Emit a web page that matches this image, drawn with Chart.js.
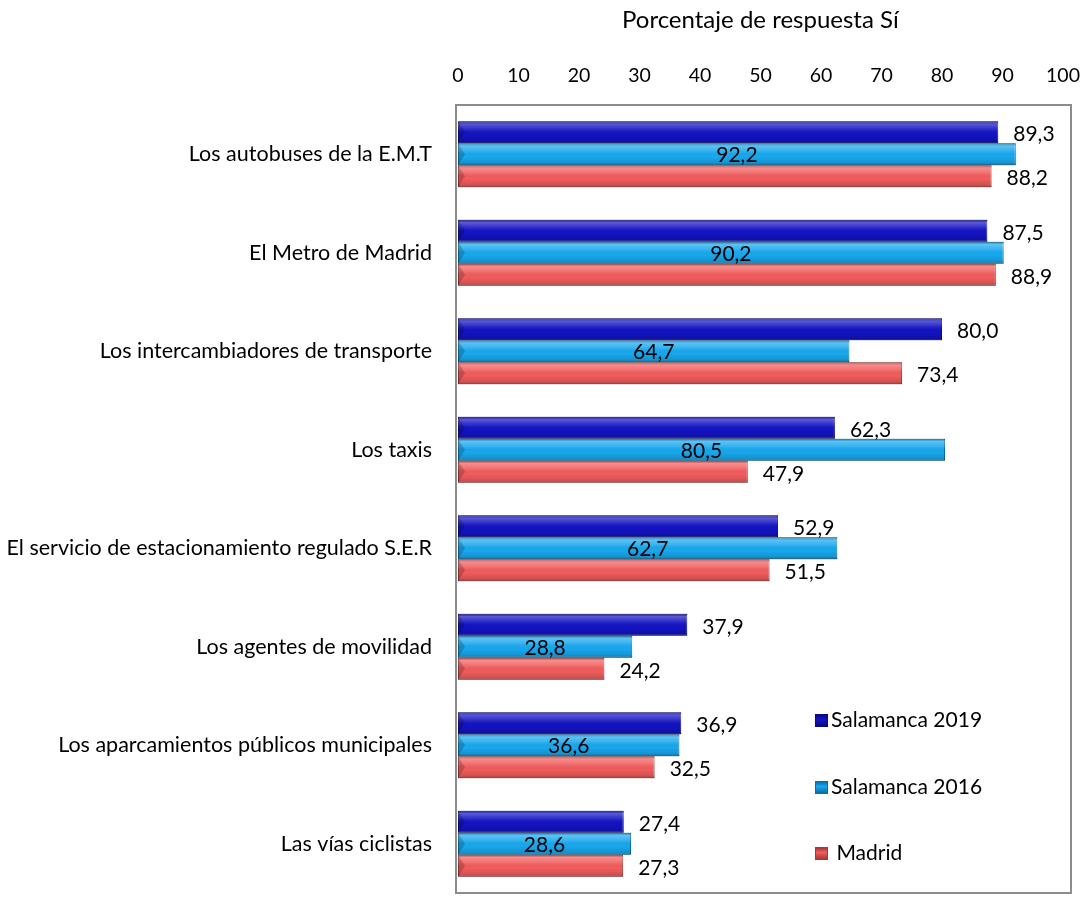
<!DOCTYPE html>
<html>
<head>
<meta charset="utf-8">
<script src="https://cdn.jsdelivr.net/npm/chart.js@4.4.1/dist/chart.umd.min.js"></script>
<style>
  html, body { margin: 0; padding: 0; background: #fff; overflow: hidden; }
  #wrap { position: relative; width: 1086px; height: 898px; }
  #titulo { position: absolute; left: 622px; top: 4px; font-family: Lato, sans-serif; font-size: 24px; color: #000; white-space: nowrap; }
  #legend { position: absolute; left: 815px; top: 706px; font-family: Lato, sans-serif; font-size: 21px; color: #000; }
  #legend div { height: 66.5px; display: flex; align-items: flex-start; }
  #legend span.sw { display: inline-block; width: 13px; height: 13px; margin-right: 3px; margin-top: 8px; box-sizing: border-box; }
</style>
</head>
<body>
<div id="wrap">
  <canvas id="chart"></canvas>
  <div id="titulo">Porcentaje de respuesta Sí</div>
  <div id="legend"></div>
</div>
<script>
// Datos
const categorias = [
    'Los autobuses de la E.M.T',
    'El Metro de Madrid',
    'Los intercambiadores de transporte',
    'Los taxis',
    'El servicio de estacionamiento regulado S.E.R',
    'Los agentes de movilidad',
    'Los aparcamientos públicos municipales',
    'Las vías ciclistas'
];
const salamanca2019 = [89.3, 87.5, 80.0, 62.3, 52.9, 37.9, 36.9, 27.4];
const salamanca2016 = [92.2, 90.2, 64.7, 80.5, 62.7, 28.8, 36.6, 28.6];
const madrid = [88.2, 88.9, 73.4, 47.9, 51.5, 24.2, 32.5, 27.3];
const ticksX = [0, 10, 20, 30, 40, 50, 60, 70, 80, 90, 100];

const series = [
    { label: 'Salamanca 2019', data: salamanca2019, color: '#1313c4', border: '#0a0a80', inside: false },
    { label: 'Salamanca 2016', data: salamanca2016, color: '#18a8ee', border: '#0a6ea8', inside: true },
    { label: 'Madrid', data: madrid, color: '#f25c5c', border: '#a83838', inside: false }
];

const fuente = 'Lato, "Open Sans", sans-serif';

// quitar el relleno extra que Chart.js añade por las etiquetas
function sinRelleno(scale) {
    scale.paddingLeft = 0;
    scale.paddingRight = 0;
    scale.paddingTop = 0;
    scale.paddingBottom = 0;
}

// Sombreado tipo 3D encima de las barras + etiquetas
const barShade = {
    id: 'barShade',
    afterDatasetsDraw(chart) {
        const ctx = chart.ctx;
        chart.data.datasets.forEach((ds, di) => {
            const meta = chart.getDatasetMeta(di);
            meta.data.forEach((bar, i) => {
                const top = bar.y - bar.height / 2;
                const g = ctx.createLinearGradient(0, top, 0, top + bar.height);
                g.addColorStop(0, 'rgba(0,0,0,0.25)');
                g.addColorStop(0.12, 'rgba(255,255,255,0.30)');
                g.addColorStop(0.35, 'rgba(255,255,255,0.12)');
                g.addColorStop(0.6, 'rgba(0,0,0,0)');
                g.addColorStop(0.88, 'rgba(0,0,0,0.12)');
                g.addColorStop(1, 'rgba(0,0,0,0.35)');
                ctx.save();
                ctx.fillStyle = g;
                ctx.fillRect(bar.base, top, bar.x - bar.base, bar.height);
                // pequeño bisel a la izquierda
                ctx.fillStyle = 'rgba(0,0,0,0.18)';
                ctx.beginPath();
                ctx.moveTo(bar.base, top);
                ctx.lineTo(bar.base + 7, bar.y);
                ctx.lineTo(bar.base, top + bar.height);
                ctx.closePath();
                ctx.fill();
                ctx.restore();

                // etiqueta
                const txt = ds.data[i].toFixed(1).replace('.', ',');
                ctx.save();
                ctx.font = '21px ' + fuente;
                ctx.fillStyle = '#000';
                ctx.textBaseline = 'middle';
                if (series[di].inside) {
                    ctx.textAlign = 'center';
                    ctx.fillText(txt, (bar.base + bar.x) / 2, bar.y + 1);
                } else {
                    ctx.textAlign = 'left';
                    ctx.fillText(txt, bar.x + 15, bar.y + 2);
                }
                ctx.restore();
            });
        });
        // marco del área de trazado
        const a = chart.chartArea;
        ctx.save();
        ctx.strokeStyle = '#8c8c8c';
        ctx.lineWidth = 2;
        ctx.strokeRect(a.left - 2, a.top, a.right - a.left + 10, a.bottom - a.top);
        ctx.restore();
    }
};

const ctx = document.getElementById('chart').getContext('2d');
const myChart = new Chart(ctx, {
    type: 'bar',
    data: {
        labels: categorias,
        datasets: series.map(s => ({
            label: s.label,
            data: s.data,
            backgroundColor: s.color,
            borderColor: s.border,
            borderWidth: 1,
            borderSkipped: false,
            categoryPercentage: 0.67,
            barPercentage: 1.0
        }))
    },
    options: {
        indexAxis: 'y',
        responsive: true,
        maintainAspectRatio: false,
        animation: false,
        layout: { padding: { top: 0, right: 23, bottom: 5, left: 0 } },
        plugins: {
            legend: { display: false },
            tooltip: { enabled: false },
            title: { display: false }
        },
        scales: {
            x: {
                position: 'top',
                min: 0,
                max: 100,
                afterBuildTicks(scale) {
                    scale.ticks = ticksX.map(v => ({ value: v }));
                },
                afterFit(scale) { scale.height = 105; sinRelleno(scale); },
                grid: { display: false, drawTicks: false },
                border: { display: false },
                ticks: {
                    color: '#000',
                    padding: 18,
                    font: { family: fuente, size: 19.5 },
                    maxRotation: 0
                }
            },
            y: {
                afterFit(scale) { scale.width = 458; sinRelleno(scale); },
                grid: { display: false, drawTicks: false },
                border: { display: false },
                ticks: {
                    color: '#000',
                    padding: 26,
                    font: { family: fuente, size: 21.5 },
                    autoSkip: false
                }
            }
        }
    },
    plugins: [barShade]
});

// Leyenda HTML
const legendDiv = document.getElementById('legend');
series.forEach(s => {
    const row = document.createElement('div');
    const sw = document.createElement('span');
    sw.className = 'sw';
    sw.style.background = 'linear-gradient(' + s.border + ',' + s.color + ' 40%,' + s.border + ')';
    sw.style.border = '1px solid ' + s.border;
    row.appendChild(sw);
    row.appendChild(document.createTextNode((s.label === 'Madrid' ? '\u00a0' : '') + s.label));
    legendDiv.appendChild(row);
});
</script>
</body>
</html>
